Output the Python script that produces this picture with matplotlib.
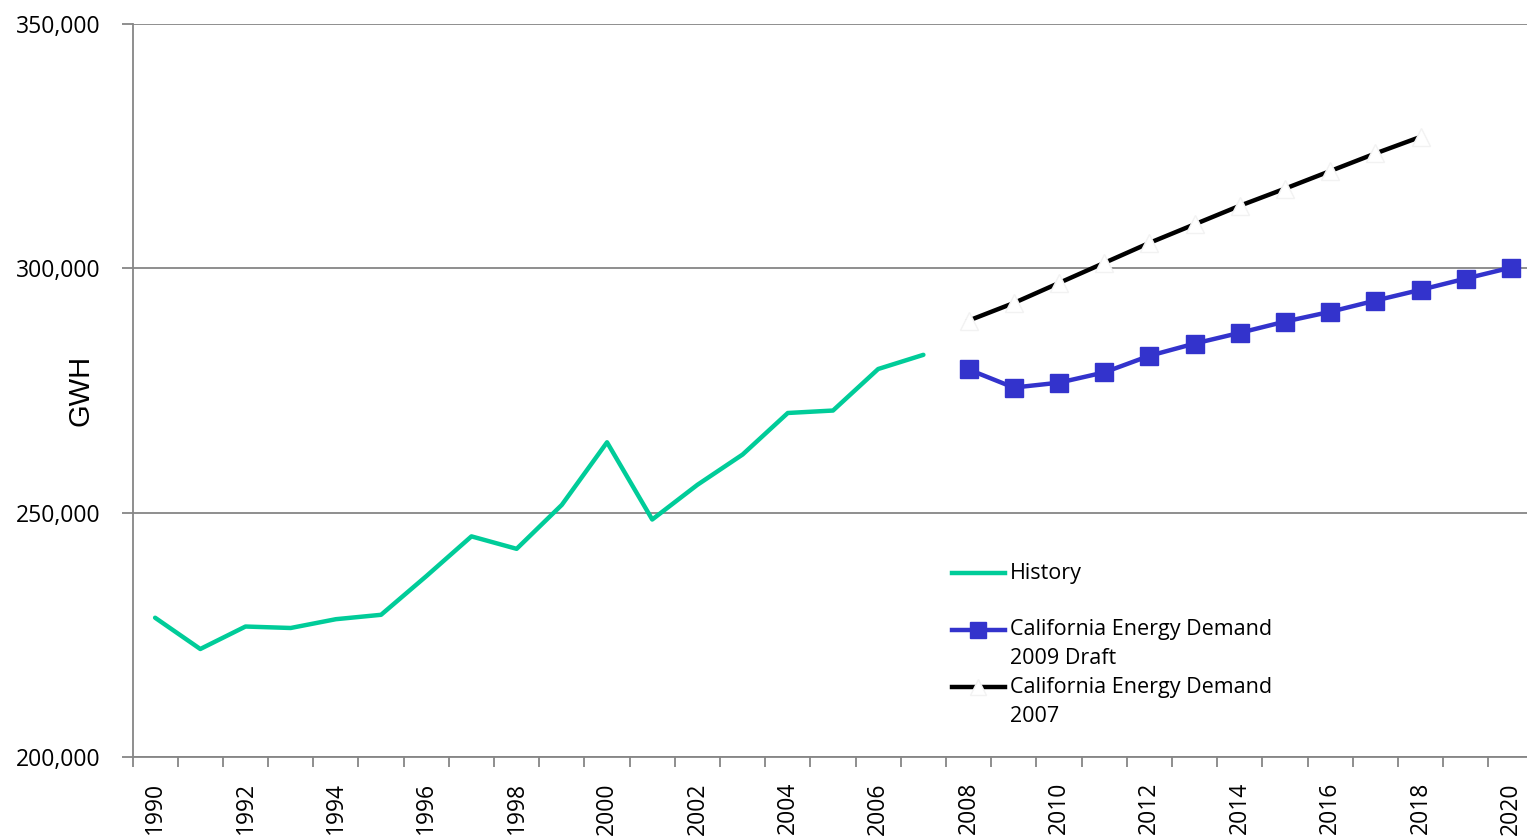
import matplotlib
matplotlib.use("Agg")
import matplotlib.pyplot as plt
from matplotlib.lines import Line2D

# --- data (GWh) ---
hist_years = list(range(1990, 2008))
hist_gwh = [228500, 222100, 226700, 226400, 228200, 229100, 237000, 245150,
            242600, 251600, 264400, 248600, 255700, 261900, 270400, 270900,
            279400, 282300]

draft09_years = list(range(2008, 2021))
draft09_gwh = [279300, 275600, 276600, 278700, 282100, 284600, 286800,
               289100, 291100, 293400, 295600, 297900, 300150]

ced07_years = list(range(2008, 2019))
ced07_gwh = [289300, 292900, 297000, 301100, 305200, 309000, 312800,
             316300, 319900, 323500, 326900]

year_labels = [str(y) for y in range(1990, 2021, 2)]
ytick_vals = [200000, 250000, 300000, 350000]

GREEN = "#00CC99"
BLUE = "#3333CC"
GRID = "#868686"

W, H = 1527, 838
fig = plt.figure(figsize=(W / 100, H / 100), dpi=100)
ax = fig.add_axes([132.5 / W, 1 - 757 / H, 1401 / W, 733 / H])

ax.plot(hist_years, hist_gwh, color=GREEN, lw=3.2, solid_capstyle="round", zorder=3)
ax.plot(draft09_years, draft09_gwh, color=BLUE, lw=3.2, marker="s", ms=12.5,
        zorder=4)
ax.plot(ced07_years, ced07_gwh, color="black", lw=3.2, marker="^", ms=13,
        mfc="white", mec="#f2f2f2", mew=1, zorder=3)

ax.set_xlim(1989.5, 2020.5)
ax.set_ylim(200000, 350000)

ax.set_yticks(ytick_vals)
ax.set_yticklabels([f"{v:,}" for v in ytick_vals])
ax.yaxis.grid(True, color=GRID, lw=1.3)
ax.set_axisbelow(True)

# category boundary ticks (minor) + labels at even years (major)
ax.set_xticks([y + 0.5 for y in range(1989, 2021)], minor=True)
ax.set_xticks(range(1990, 2021, 2))
ax.set_xticklabels(year_labels, rotation=90, va="top")
ax.tick_params(axis="x", which="major", length=0, pad=18)
ax.tick_params(axis="x", which="minor", length=7, width=1.3, color=GRID)
ax.tick_params(axis="y", length=8, width=1.3, color=GRID, pad=15)

for lab in ax.get_xticklabels() + ax.get_yticklabels():
    lab.set_fontfamily("Open Sans")
    lab.set_fontsize(16.5)

for s in ["top", "right"]:
    ax.spines[s].set_visible(False)
for s in ["left", "bottom"]:
    ax.spines[s].set_color(GRID)
    ax.spines[s].set_linewidth(1.3)

fig.text(80 / W, 1 - 390 / H, "GWH", rotation=90, ha="center", va="center",
         fontsize=21, family="Liberation Sans")

# legend drawn by hand so the handle sits on the first text line
def fy(py):
    return 1 - py / H

x0, xm, x1 = 952 / W, 978 / W, 1005 / W
fig.add_artist(Line2D([x0, x1], [fy(573)] * 2, color=GREEN, lw=3.2,
                      transform=fig.transFigure))
fig.add_artist(Line2D([x0, xm, x1], [fy(630)] * 3, color=BLUE, lw=3.2,
                      marker="s", ms=11, markevery=[1], transform=fig.transFigure))
fig.add_artist(Line2D([x0, xm, x1], [fy(687)] * 3, color="black", lw=3.2,
                      marker="^", ms=11, mfc="white", mec="#f2f2f2",
                      markevery=[1], transform=fig.transFigure))

legend_lines = [("History", 573), ("California Energy Demand", 630),
                ("2009 Draft", 659), ("California Energy Demand", 687),
                ("2007", 716)]
for txt, py in legend_lines:
    fig.text(1010 / W, fy(py), txt, ha="left", va="center", fontsize=15.5,
             family="Open Sans")

fig.savefig("out.png", dpi=100)
